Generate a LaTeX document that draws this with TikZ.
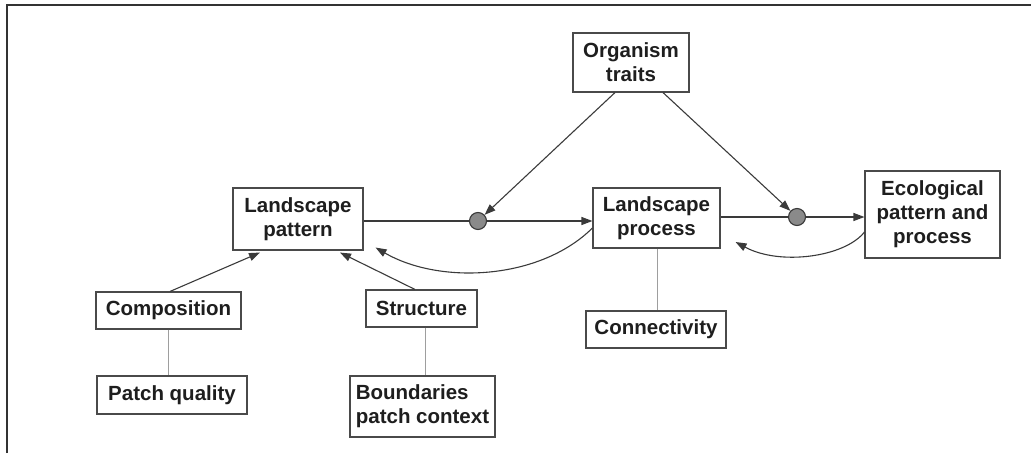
\documentclass[tikz,border=0pt]{standalone}
\usepackage{fontspec}
\setmainfont{Liberation Sans}
\usetikzlibrary{arrows.meta,calc}
\definecolor{ink}{HTML}{1E1E1E}
\definecolor{edge}{HTML}{3A3A3A}
\definecolor{boxline}{HTML}{4A4A4A}
\definecolor{dotfill}{HTML}{8A8A8A}
\begin{document}
\begin{tikzpicture}[x=1pt,y=-1pt,
  every node/.style={font=\fontsize{20.5}{24}\selectfont\bfseries, text=ink},
  concept/.style={draw=boxline, line width=1.1pt, inner sep=0pt, align=center},
  junction/.style={circle, draw=edge, line width=1.1pt, fill=dotfill, minimum size=17pt, inner sep=0pt},
  link/.style={draw=edge, line width=1.1pt},
  flow/.style={link, -{Triangle[length=11pt,width=8pt]}},
  tie/.style={draw=black!38, line width=0.8pt}]
\useasboundingbox (0,0) rectangle (1031,453);

% frame
\draw[black!80, line width=2pt] (6.5,453) -- (6.5,4.5) -- (1031,4.5);

% concept boxes
\node[concept, minimum width=116pt, minimum height=59pt] (OT) at (631,62.5) {Organism\\traits};
\node[concept, minimum width=130pt, minimum height=62pt] (LP) at (298,219) {Landscape\\pattern};
\node[concept, minimum width=127pt, minimum height=60pt] (LR) at (656.5,218) {Landscape\\process};
\node[concept, minimum width=135pt, minimum height=87pt] (EP) at (932.5,214.5) {Ecological\\pattern and\\process};
\node[concept, minimum width=145pt, minimum height=37pt] (CO) at (168.5,310.5) {Composition};
\node[concept, minimum width=150pt, minimum height=38pt] (PQ) at (172,395) {Patch quality};
\node[concept, minimum width=111pt, minimum height=37pt] (ST) at (421.5,308.5) {Structure};
\node[concept, minimum width=145pt, minimum height=61pt, align=left] (BP) at (422.5,406.5) {Boundaries\\patch context};
\node[concept, minimum width=140pt, minimum height=37pt] (CN) at (656,329.5) {Connectivity};

% interaction points
\node[junction] (J1) at (478,221) {};
\node[junction] (J2) at (797,217) {};

% main chain
\draw[link] (LP.east |- J1) -- (J1);
\draw[flow] (J1) -- (J1 -| LR.west);
\draw[link] (LR.east |- J2) -- (J2);
\draw[flow] (J2) -- (J2 -| EP.west);

% organism traits modify both links
\draw[flow] ($(OT.south)+(-16,0)$) -- (J1);
\draw[flow] ($(OT.south)+(32,0)$) -- (J2);

% feedbacks
\draw[flow] ($(LR.west)+(0,10)$) .. controls (540,280) and (440,285) .. ($(LP.south east)+(12,-3)$);
\draw[flow] ($(EP.west)+(0,17.5)$) .. controls (845,257) and (780,266) .. ($(LR.east)+(15,24)$);

% components of landscape pattern
\draw[flow] ($(CO.north)+(1.5,0)$) -- ($(LP.south)+(-38,2)$);
\draw[flow] ($(ST.north)+(-6.5,0)$) -- ($(LP.south)+(42,2)$);

% attributes
\draw[tie] (CO.south -| 168,0) -- (PQ.north -| 168,0);
\draw[tie] (ST.south -| 425,0) -- (BP.north -| 425,0);
\draw[tie] (LR.south -| 657,0) -- (CN.north -| 657,0);
\end{tikzpicture}
\end{document}
